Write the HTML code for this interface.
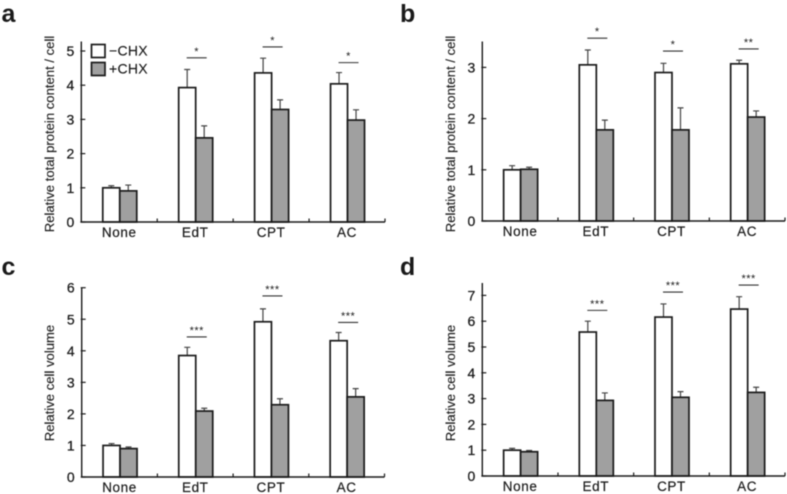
<!DOCTYPE html>
<html lang="en">
<head>
<meta charset="utf-8">
<title>Relative protein content and cell volume</title>
<style>
html,body{margin:0;padding:0;background:#fff;}
body{width:787px;height:494px;overflow:hidden;}
svg{display:block;filter:blur(0.5px);}
text{font-family:"Liberation Sans",sans-serif;fill:#1a1a1a;}
</style>
</head>
<body>
<svg id="figure" width="787" height="494" viewBox="0 0 787 494" xmlns="http://www.w3.org/2000/svg"></svg>
<script>
const categories = ['None', 'EdT', 'CPT', 'AC'];
const seriesNames = ['\u2212CHX', '+CHX'];

const aMinus = [1.0, 3.93, 4.36, 4.04];
const aPlus = [0.91, 2.46, 3.29, 2.98];
const aMinusErr = [0.06, 0.53, 0.43, 0.33];
const aPlusErr = [0.17, 0.35, 0.28, 0.30];
const aSigLevels = [4.8, 5.12, 4.66];
const aSigLabels = ['*', '*', '*'];
const aTicks = [0, 1, 2, 3, 4, 5];

const bMinus = [1.0, 3.05, 2.9, 3.07];
const bPlus = [1.01, 1.78, 1.78, 2.03];
const bMinusErr = [0.08, 0.29, 0.18, 0.07];
const bPlusErr = [0.04, 0.19, 0.43, 0.12];
const bSigLevels = [3.57, 3.32, 3.36];
const bSigLabels = ['*', '*', '**'];
const bTicks = [0, 1, 2, 3];

const cMinus = [1.0, 3.85, 4.92, 4.32];
const cPlus = [0.9, 2.09, 2.29, 2.54];
const cMinusErr = [0.06, 0.26, 0.41, 0.26];
const cPlusErr = [0.05, 0.09, 0.19, 0.26];
const cSigLevels = [4.44, 5.74, 4.9];
const cSigLabels = ['***', '***', '***'];
const cTicks = [0, 1, 2, 3, 4, 5, 6];

const dMinus = [1.0, 5.58, 6.16, 6.47];
const dPlus = [0.94, 2.93, 3.05, 3.24];
const dMinusErr = [0.07, 0.42, 0.51, 0.48];
const dPlusErr = [0.05, 0.29, 0.22, 0.20];
const dSigLevels = [6.42, 7.13, 7.4];
const dSigLabels = ['***', '***', '***'];
const dTicks = [0, 1, 2, 3, 4, 5, 6, 7];

const NS = 'http://www.w3.org/2000/svg';
const fig = document.getElementById('figure');
const INK = '#1a1a1a';

function node(parent, tag, attrs, txt) {
  const el = document.createElementNS(NS, tag);
  for (const k in attrs) el.setAttribute(k, attrs[k]);
  if (txt !== undefined) el.textContent = txt;
  parent.appendChild(el);
  return el;
}

function drawPanel(p) {
  const g = node(fig, 'g', {});
  
  

  const sy = v => p.base - v * p.unit;
  const band = (p.right - p.left) / categories.length;
  const cx = i => p.left + band * (i + 0.5) + 0.5;
  const barW = 17;

  const letter = node(g, 'text', {x: p.letterX, y: p.letterY, 'font-size': 25, 'font-weight': 'bold', fill: '#111'}, p.letter);
  
  

  const yTitle = node(g, 'text', {
    x: 0, y: 0, 'font-size': p.titleSize, 'text-anchor': 'middle', fill: '#333',
    stroke: '#333', 'stroke-width': 0.15,
    transform: 'translate(' + (p.left - 27.5) + ' ' + p.titleY + ') rotate(-90)'
  }, p.title);
  
  

  categories.forEach((cat, i) => {
    const vals = [p.minus[i], p.plus[i]];
    const errs = [p.minusErr[i], p.plusErr[i]];
    vals.forEach((v, s) => {
      const x = cx(i) - barW + s * barW;
      const mid = x + barW / 2;
      const err = node(g, 'path', {
        d: 'M' + mid + ' ' + sy(v) + 'V' + sy(v + errs[s]) + 'M' + (mid - 3) + ' ' + sy(v + errs[s]) + 'H' + (mid + 3),
        stroke: '#444', 'stroke-width': 1.2, fill: 'none'
      });
      
      
      const bar = node(g, 'rect', {
        x: x, y: sy(v), width: barW, height: v * p.unit,
        fill: s ? '#a0a0a0' : '#fff', stroke: INK, 'stroke-width': 1.7
      });
      
      
    });

    const label = node(g, 'text', {
      x: cx(i) - 0.5, y: p.base + 15, 'font-size': 13.5, 'text-anchor': 'middle', 'letter-spacing': 0.6,
      stroke: '#1a1a1a', 'stroke-width': 0.2
    }, cat);
    
    
  });

  p.sigLevels.forEach((lvl, i) => {
    const c = cx(i + 1) + 1;
    const line = node(g, 'line', {x1: c - 10, x2: c + 10, y1: sy(lvl), y2: sy(lvl), stroke: '#333', 'stroke-width': 1.1});
    
    
    const star = node(g, 'text', {x: c, y: sy(lvl) - 3, 'font-size': 11, 'text-anchor': 'middle', fill: '#555', 'letter-spacing': 0.5}, p.sigLabels[i]);
    
    
  });

  const axis = node(g, 'path', {
    d: 'M' + p.left + ' ' + p.top + 'V' + p.base + 'H' + p.right,
    stroke: INK, 'stroke-width': 1.4, fill: 'none'
  });
  
  

  p.ticks.forEach(t => {
    const mark = node(g, 'line', {x1: p.left - 1, x2: p.left + 4, y1: sy(t), y2: sy(t), stroke: INK, 'stroke-width': 1.2});
    
    
    const lab = node(g, 'text', {x: p.left - 7, y: sy(t) + 5, 'font-size': 14, 'text-anchor': 'end', stroke: '#1a1a1a', 'stroke-width': 0.25}, String(t));
    
    
  });

  categories.forEach((cat, i) => {
    const x = p.left + band * (i + 1);
    const mark = node(g, 'line', {x1: x, x2: x, y1: p.base - 3.5, y2: p.base, stroke: INK, 'stroke-width': 1.2});
    
    
  });
}

drawPanel({letter: 'a', letterX: 1.5, letterY: 22, title: 'Relative total protein content / cell', titleSize: 13.1, titleY: 134,
  left: 81.3, right: 385, base: 222, top: 41.5, unit: 34.2, ticks: aTicks,
  minus: aMinus, plus: aPlus, minusErr: aMinusErr, plusErr: aPlusErr, sigLevels: aSigLevels, sigLabels: aSigLabels});
drawPanel({letter: 'b', letterX: 400, letterY: 22, title: 'Relative total protein content / cell', titleSize: 13.1, titleY: 134,
  left: 482.3, right: 785, base: 221, top: 41.5, unit: 51.2, ticks: bTicks,
  minus: bMinus, plus: bPlus, minusErr: bMinusErr, plusErr: bPlusErr, sigLevels: bSigLevels, sigLabels: bSigLabels});
drawPanel({letter: 'c', letterX: 1.5, letterY: 275, title: 'Relative cell volume', titleSize: 13.1, titleY: 383,
  left: 81.7, right: 384.5, base: 477, top: 287.5, unit: 31.55, ticks: cTicks,
  minus: cMinus, plus: cPlus, minusErr: cMinusErr, plusErr: cPlusErr, sigLevels: cSigLevels, sigLabels: cSigLabels});
drawPanel({letter: 'd', letterX: 400, letterY: 275, title: 'Relative cell volume', titleSize: 13.1, titleY: 383,
  left: 482.3, right: 785, base: 476, top: 283, unit: 25.8, ticks: dTicks,
  minus: dMinus, plus: dPlus, minusErr: dMinusErr, plusErr: dPlusErr, sigLevels: dSigLevels, sigLabels: dSigLabels});

const legend = node(fig, 'g', {});


seriesNames.forEach((name, i) => {
  const y = 44.5 + i * 18;
  const box = node(legend, 'rect', {x: 91.5, y: y, width: 13.5, height: 13, fill: i ? '#a0a0a0' : '#fff', stroke: INK, 'stroke-width': 1.7});
  
  
  const t = node(legend, 'text', {x: 109, y: y + 11, 'font-size': 14, 'letter-spacing': 0.3, stroke: '#1a1a1a', 'stroke-width': 0.15}, name);
  
  
});
</script>
</body>
</html>
